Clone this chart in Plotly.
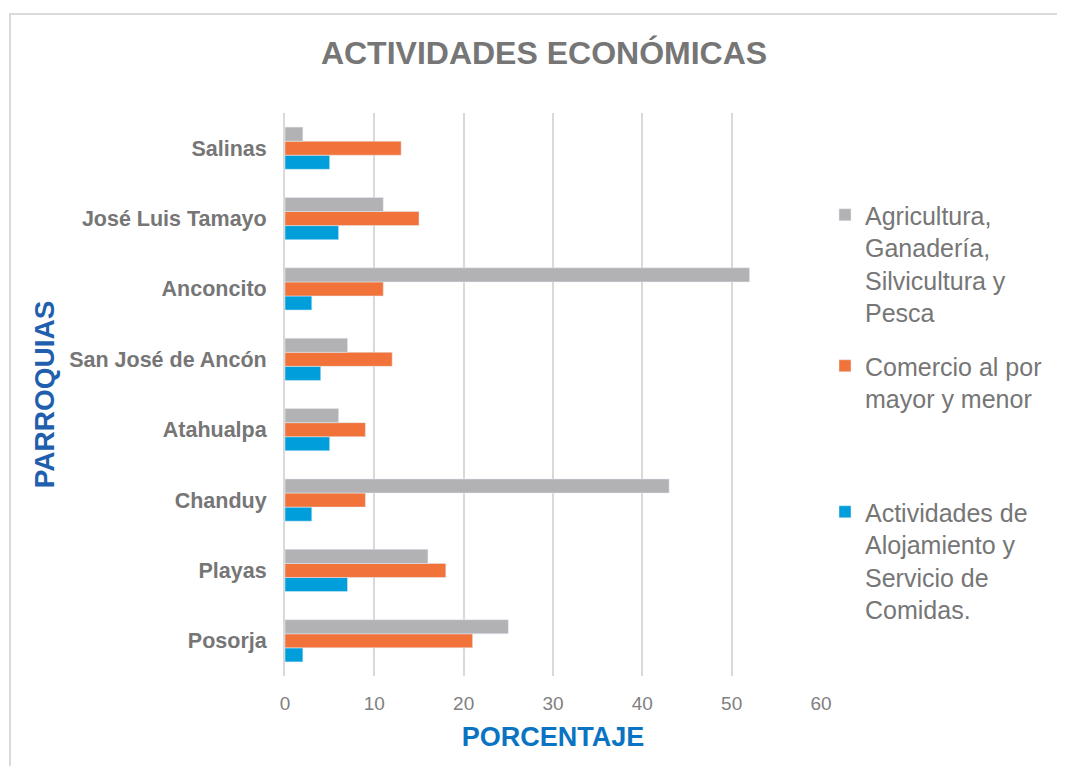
import plotly.graph_objects as go

parroquias = ["Posorja", "Playas", "Chanduy", "Atahualpa", "San José de Ancón",
              "Anconcito", "José Luis Tamayo", "Salinas"]
agricultura = [25, 16, 43, 6, 7, 52, 11, 2]
comercio = [21, 18, 9, 9, 12, 11, 15, 13]
alojamiento = [2, 7, 3, 5, 4, 3, 6, 5]

series_names = [
    "Agricultura,<br>Ganadería,<br>Silvicultura y<br>Pesca",
    "Comercio al por<br>mayor y menor",
    "Actividades de<br>Alojamiento y<br>Servicio de<br>Comidas.",
]
x_ticks = [0, 10, 20, 30, 40, 50, 60]

FONT = "Liberation Sans, Arial, sans-serif"
GRAY_TXT = "#767676"

fig = go.Figure()
# Plotly stacks horizontal groups bottom-up, so add bottom series first
fig.add_trace(go.Bar(y=parroquias, x=alojamiento, orientation="h", name=series_names[2],
                     marker=dict(color="#009FDB"), legend="legend3"))
fig.add_trace(go.Bar(y=parroquias, x=comercio, orientation="h", name=series_names[1],
                     marker=dict(color="#F2733A"), legend="legend2"))
fig.add_trace(go.Bar(y=parroquias, x=agricultura, orientation="h", name=series_names[0],
                     marker=dict(color="#B2B2B4"), legend="legend"))

# page has an 8px body margin; work in page pixel coordinates and convert
OFF = 8
W, H = 1065 - 2 * OFF, 774 - 2 * OFF
PL, PR, PT, PB = 285, 821, 113, 676  # plot area in page pixels
L, R, T, B = PL - OFF, W - (PR - OFF), PT - OFF, H - (PB - OFF)
pw, ph = W - L - R, H - T - B


def px2x(px):
    return (px - OFF - L) / pw


def px2y(py):
    return (H - B - (py - OFF)) / ph


leg_common = dict(font=dict(family=FONT, size=25, color=GRAY_TXT), bgcolor="rgba(0,0,0,0)",
                  xanchor="left", yanchor="top", valign="top", itemwidth=30,
                  itemclick=False, itemdoubleclick=False)

fig.update_layout(
    width=W, height=H,
    margin=dict(l=L, r=R, t=T, b=B, autoexpand=False),
    paper_bgcolor="white", plot_bgcolor="white",
    barmode="group", bargap=0.4, bargroupgap=0,
    showlegend=True,
    font=dict(family=FONT, color=GRAY_TXT),
    title=dict(text="<b>ACTIVIDADES ECONÓMICAS</b>", x=(544 - OFF) / W, xanchor="center",
               y=1 - (53 - OFF) / H, yanchor="middle",
               font=dict(family=FONT, size=32, color=GRAY_TXT)),
    xaxis=dict(range=[0, 60], tickvals=x_ticks, showgrid=True, gridcolor="#D9D9D9",
               gridwidth=2, zeroline=False, showline=False, ticks="",
               ticklabelstandoff=14,
               tickfont=dict(family=FONT, size=19, color="#808080"),
               title=dict(text="<b>PORCENTAJE</b>", standoff=14,
                          font=dict(family=FONT, size=27, color="#0A74C2"))),
    yaxis=dict(showgrid=False, zeroline=False, showline=True, linecolor="#D9D9D9",
               linewidth=2, ticks="", ticklabelstandoff=12,
               tickfont=dict(family=FONT, size=21.5, color=GRAY_TXT),
               tickprefix="<b>", ticksuffix="</b>",
               title=dict(text="<b>PARROQUIAS</b>", standoff=6,
                          font=dict(family=FONT, size=28, color="#1F5FAD"))),
    legend=dict(x=px2x(825), y=px2y(192), **leg_common),
    legend2=dict(x=px2x(825), y=px2y(343), **leg_common),
    legend3=dict(x=px2x(825), y=px2y(489), **leg_common),
    shapes=[dict(type="rect", xref="paper", yref="paper",
                 x0=px2x(10), x1=px2x(1090), y0=px2y(800), y1=px2y(14),
                 line=dict(color="#D9D9D9", width=2), fillcolor="rgba(0,0,0,0)",
                 layer="below")],
)

fig.write_html("out.html")
